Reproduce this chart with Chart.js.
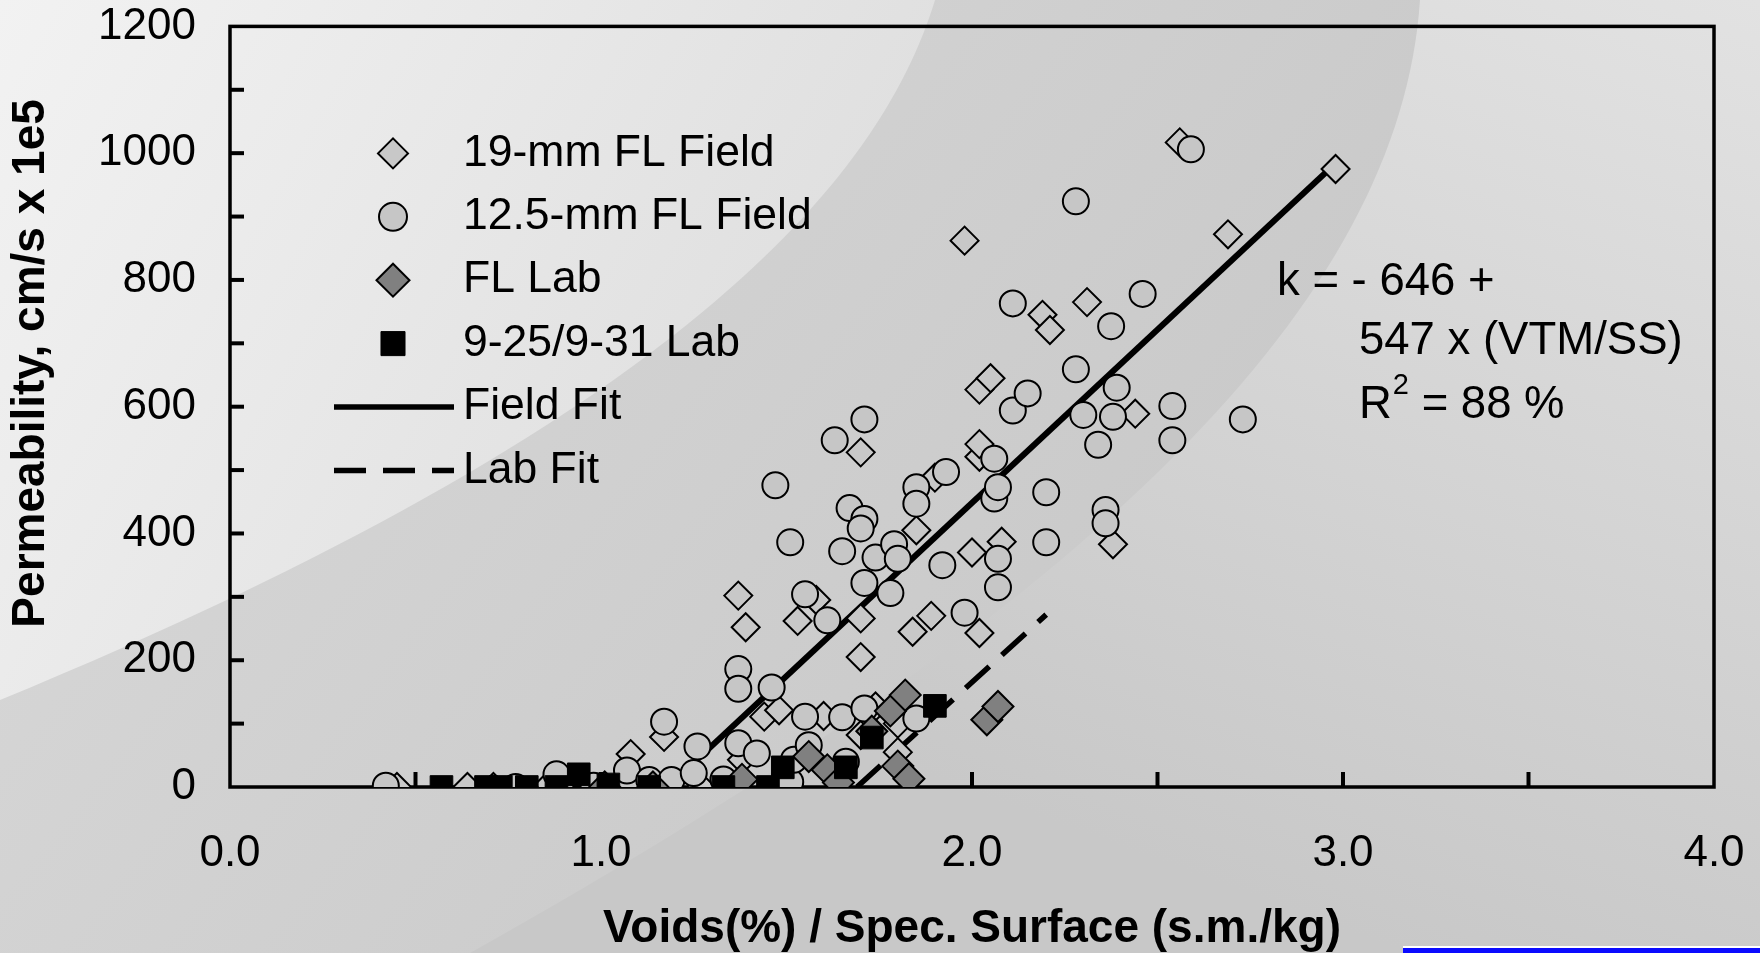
<!DOCTYPE html>
<html>
<head>
<meta charset="utf-8">
<title>Permeability vs Voids / Specific Surface</title>
<script src="https://cdn.jsdelivr.net/npm/chart.js@4.4.1/dist/chart.umd.min.js"></script>
<style>
  html, body { margin: 0; padding: 0; background: #d6d6d6; }
  #wrap { width: 1760px; height: 953px; position: relative; }
</style>
</head>
<body>
<div id="wrap"><canvas id="chart"></canvas></div>
<script>
const FONT = "'Liberation Sans', Arial, sans-serif";

// 19-mm FL Field (light diamonds)
const field19X = [0.45, 0.64, 0.71, 0.86, 0.89, 1.01, 1.08, 1.16, 1.17, 1.27, 1.38, 1.44, 1.48, 1.60, 1.70,
  1.74, 1.80, 1.80, 1.37, 1.39, 1.53, 1.58, 1.70, 1.70, 1.70, 1.84, 1.89, 1.85, 1.90, 2.00,
  2.02, 2.02, 2.02, 2.02, 2.05, 2.08, 2.38, 2.44, 1.98, 2.19, 2.21, 2.31, 2.56, 2.69, 2.98];
const field19Y = [0, 0, 0, 4, 0, 0, 52, 0, 79, 0, 43, 111, 121, 112, 82,
  127, 100, 55, 302, 252, 262, 295, 266, 205, 528, 245, 270, 405, 488, 370,
  243, 521, 541, 627, 645, 387, 383, 589, 862, 745, 721, 765, 1017, 872, 975];

// 12.5-mm FL Field (circles)
const field125X = [0.42, 0.77, 0.88, 0.98, 1.07, 1.07, 1.13, 1.19, 1.17, 1.25, 1.26, 1.33, 1.37, 1.42, 1.51,
  1.52, 1.56, 1.66, 1.37, 1.37, 1.46, 1.55, 1.65, 1.71, 1.85, 1.47, 1.51, 1.55, 1.61, 1.63,
  1.71, 1.67, 1.71, 1.70, 1.65, 1.71, 1.74, 1.78, 1.79, 1.80, 1.85, 1.85, 1.93, 1.92, 1.98,
  2.06, 2.06, 2.07, 2.07, 2.07, 2.11, 2.15, 2.11, 2.20, 2.20, 2.28, 2.28, 2.30, 2.34, 2.36,
  2.36, 2.38, 2.375, 2.39, 2.46, 2.54, 2.54, 2.73, 2.59];
const field125Y = [2, 0, 20, 2, 3, 26, 11, 11, 103, 22, 64, 12, 69, 53, 8,
  43, 66, 40, 186, 155, 157, 111, 110, 124, 108, 476, 386, 304, 263, 547,
  580, 440, 423, 408, 372, 322, 362, 306, 383, 360, 473, 447, 497, 350, 275,
  518, 455, 473, 360, 315, 594, 621, 763, 465, 386, 659, 924, 587, 540, 437,
  416, 584, 727, 630, 778, 601, 547, 580, 1006];

// FL Lab (dark diamonds)
const flLabX = [1.01, 1.14, 1.38, 1.56, 1.61, 1.64, 1.73, 1.78, 1.82, 1.80, 1.83, 2.04, 2.07];
const flLabY = [0, 0, 12, 48, 27, 7, 88, 120, 145, 33, 13, 106, 127];

// 9-25/9-31 Lab (black squares)
const lab925X = [0.57, 0.69, 0.73, 0.80, 0.88, 0.94, 1.02, 1.13, 1.33, 1.45, 1.49, 1.66, 1.73, 1.90];
const lab925Y = [0, 0, 0, 0, 0, 20, 4, 0, 0, 0, 31, 31, 78, 128];

// regression lines
const fieldFitX = [1.18, 2.96];
const fieldFitY = [0, 973];
const labFitX = [1.69, 2.20];
const labFitY = [0, 272];

const seriesLabels = ['19-mm FL Field', '12.5-mm FL Field', 'FL Lab', '9-25/9-31 Lab', 'Field Fit', 'Lab Fit'];
const fitText = ['k = - 646 +', '547 x (VTM/SS)'];
const r2Text = ['R', '2', ' = 88 %'];
const xTitle = 'Voids(%) / Spec. Surface (s.m./kg)';
const yTitle = 'Permeability, cm/s x 1e5';

function toPoints(xs, ys) {
  return xs.map((x, i) => ({ x: x, y: ys[i] }));
}

function drawMarker(ctx, style, x, y, r, fill, stroke, lw) {
  ctx.save();
  ctx.fillStyle = fill;
  ctx.strokeStyle = stroke;
  ctx.lineWidth = lw;
  ctx.beginPath();
  if (style === 'circle') {
    ctx.arc(x, y, r, 0, Math.PI * 2);
  } else if (style === 'rectRot') {
    ctx.moveTo(x - r, y);
    ctx.lineTo(x, y - r);
    ctx.lineTo(x + r, y);
    ctx.lineTo(x, y + r);
    ctx.closePath();
  } else {
    const s = r * Math.SQRT1_2;
    ctx.rect(x - s, y - s, 2 * s, 2 * s);
  }
  ctx.fill();
  if (lw > 0) ctx.stroke();
  ctx.restore();
}

// slide style background with the curved bands
const background = {
  id: 'background',
  beforeDraw(chart) {
    const ctx = chart.ctx;
    const w = chart.width, h = chart.height;
    ctx.save();
    let g = ctx.createLinearGradient(w, 0, w * 0.8, h);
    g.addColorStop(0, '#e2e2e2');
    g.addColorStop(1, '#c8c8c8');
    ctx.fillStyle = g;
    ctx.fillRect(0, 0, w, h);

    // darker band left of the right curve
    ctx.beginPath();
    ctx.moveTo(0, 0);
    ctx.lineTo(1420, 0);
    ctx.bezierCurveTo(1400, 300, 1100, 600, 470, h);
    ctx.lineTo(0, h);
    ctx.closePath();
    g = ctx.createLinearGradient(0, 0, w * 0.7, h);
    g.addColorStop(0, '#dadada');
    g.addColorStop(1, '#c6c6c6');
    ctx.fillStyle = g;
    ctx.fill();

    // light swoosh top left
    ctx.beginPath();
    ctx.moveTo(0, 0);
    ctx.lineTo(935, 0);
    ctx.bezierCurveTo(880, 180, 680, 420, 0, 700);
    ctx.closePath();
    g = ctx.createLinearGradient(0, 0, 900, 500);
    g.addColorStop(0, '#f2f2f2');
    g.addColorStop(1, '#dcdcdc');
    ctx.fillStyle = g;
    ctx.fill();

    // blue strip at bottom right
    ctx.fillStyle = '#ffffff';
    ctx.fillRect(1403, 946, w - 1403, 2);
    ctx.fillStyle = '#0a0aff';
    ctx.fillRect(1403, 948, w - 1403, 5);
    ctx.restore();
  }
};

// frame and inward tick marks
const frame = {
  id: 'frame',
  beforeDatasetsDraw(chart) {
    const { ctx, chartArea: a, scales: { x, y } } = chart;
    ctx.save();
    ctx.strokeStyle = '#000';
    ctx.lineWidth = 4;
    x.ticks.forEach(t => {
      if (t.value <= x.min || t.value >= x.max) return;
      const px = x.getPixelForValue(t.value);
      ctx.beginPath();
      ctx.moveTo(px, a.bottom);
      ctx.lineTo(px, a.bottom - 15);
      ctx.stroke();
    });
    y.ticks.forEach(t => {
      if (t.value <= y.min || t.value >= y.max) return;
      const py = y.getPixelForValue(t.value);
      ctx.beginPath();
      ctx.moveTo(a.left, py);
      ctx.lineTo(a.left + 14, py);
      ctx.stroke();
    });
    ctx.lineWidth = 3.5;
    ctx.strokeRect(a.left, a.top, a.right - a.left, a.bottom - a.top);
    ctx.restore();
  }
};

// legend, fit equation and y title
const extras = {
  id: 'extras',
  afterDraw(chart) {
    const { ctx, chartArea: a } = chart;
    ctx.save();
    ctx.fillStyle = '#000';
    ctx.textBaseline = 'middle';
    ctx.font = '44.5px ' + FONT;

    let rowY = a.top + 127;
    chart.data.datasets.forEach(ds => {
      if (ds.showLine) {
        ctx.save();
        ctx.strokeStyle = ds.borderColor;
        ctx.lineWidth = 5.5;
        ctx.setLineDash(ds.borderDash || []);
        ctx.beginPath();
        ctx.moveTo(a.left + 104, rowY);
        ctx.lineTo(a.left + 224, rowY);
        ctx.stroke();
        ctx.restore();
      } else {
        drawMarker(ctx, ds.pointStyle, a.left + 163, rowY, ds.pointRadius + 1,
          ds.backgroundColor, ds.borderColor, ds.borderWidth);
      }
      ctx.fillText(ds.label, a.left + 233, rowY);
      rowY += 63.4;
    });

    // regression equation
    ctx.font = '45.5px ' + FONT;
    ctx.fillText(fitText[0], 1277, 282);
    ctx.fillText(fitText[1], 1359, 341);
    let tx = 1359;
    ctx.fillText(r2Text[0], tx, 405);
    tx += ctx.measureText(r2Text[0]).width + 1;
    ctx.font = '29px ' + FONT;
    ctx.fillText(r2Text[1], tx, 386);
    tx += ctx.measureText(r2Text[1]).width;
    ctx.font = '45.5px ' + FONT;
    ctx.fillText(r2Text[2], tx, 405);

    // y axis title
    ctx.font = 'bold 46px ' + FONT;
    ctx.textAlign = 'center';
    ctx.translate(31, a.top + 337);
    ctx.rotate(-Math.PI / 2);
    ctx.fillText(yTitle, 0, 0);
    ctx.restore();
  }
};

const datasets = [
  {
    label: seriesLabels[0],
    data: toPoints(field19X, field19Y),
    pointStyle: 'rectRot',
    pointRadius: 14,
    backgroundColor: '#c8c8c8',
    borderColor: '#000',
    borderWidth: 2,
    showLine: false,
    order: 4
  },
  {
    label: seriesLabels[1],
    data: toPoints(field125X, field125Y),
    pointStyle: 'circle',
    pointRadius: 13,
    backgroundColor: '#c6c6c6',
    borderColor: '#000',
    borderWidth: 2,
    showLine: false,
    order: 3
  },
  {
    label: seriesLabels[2],
    data: toPoints(flLabX, flLabY),
    pointStyle: 'rectRot',
    pointRadius: 15.5,
    backgroundColor: '#808080',
    borderColor: '#000',
    borderWidth: 2,
    showLine: false,
    order: 2
  },
  {
    label: seriesLabels[3],
    data: toPoints(lab925X, lab925Y),
    pointStyle: 'rect',
    pointRadius: 16,
    backgroundColor: '#000',
    borderColor: '#000',
    borderWidth: 1,
    showLine: false,
    order: 1
  },
  {
    label: seriesLabels[4],
    data: toPoints(fieldFitX, fieldFitY),
    showLine: true,
    borderColor: '#000',
    borderWidth: 6,
    pointRadius: 0,
    order: 5
  },
  {
    label: seriesLabels[5],
    data: toPoints(labFitX, labFitY),
    showLine: true,
    borderColor: '#000',
    borderWidth: 5.5,
    borderDash: [32, 17],
    pointRadius: 0,
    order: 6
  }
];

new Chart(document.getElementById('chart'), {
  type: 'scatter',
  data: { datasets: datasets },
  plugins: [background, frame, extras],
  options: {
    responsive: true,
    maintainAspectRatio: false,
    animation: false,
    events: [],
    layout: { padding: { top: 26, right: 46, left: 0, bottom: 0 } },
    plugins: {
      legend: { display: false },
      tooltip: { enabled: false }
    },
    scales: {
      x: {
        type: 'linear',
        min: 0,
        max: 4,
        // tick marks are drawn inward by the frame plugin; tickLength only spaces the labels
        grid: { display: false, drawTicks: true, tickLength: 40 },
        border: { display: false },
        ticks: {
          stepSize: 0.5,
          padding: 0,
          color: '#000',
          font: { family: FONT, size: 44 },
          maxRotation: 0,
          autoSkip: false,
          callback: v => (Math.abs(v % 1) < 1e-9 ? v.toFixed(1) : '')
        },
        title: {
          display: true,
          text: xTitle,
          color: '#000',
          font: { family: FONT, size: 46, weight: 'bold', lineHeight: 1.05 },
          padding: { top: 0, bottom: 0 }
        },
        afterFit: scale => { scale.height = 166; }
      },
      y: {
        type: 'linear',
        min: 0,
        max: 1200,
        grid: { display: false, drawTicks: true, tickLength: 34 },
        border: { display: false },
        ticks: {
          stepSize: 100,
          padding: 0,
          color: '#000',
          font: { family: FONT, size: 44 },
          autoSkip: false,
          callback: v => (v % 200 === 0 ? String(v) : '')
        },
        afterFit: scale => { scale.width = 230; }
      }
    }
  }
});
</script>
</body>
</html>
